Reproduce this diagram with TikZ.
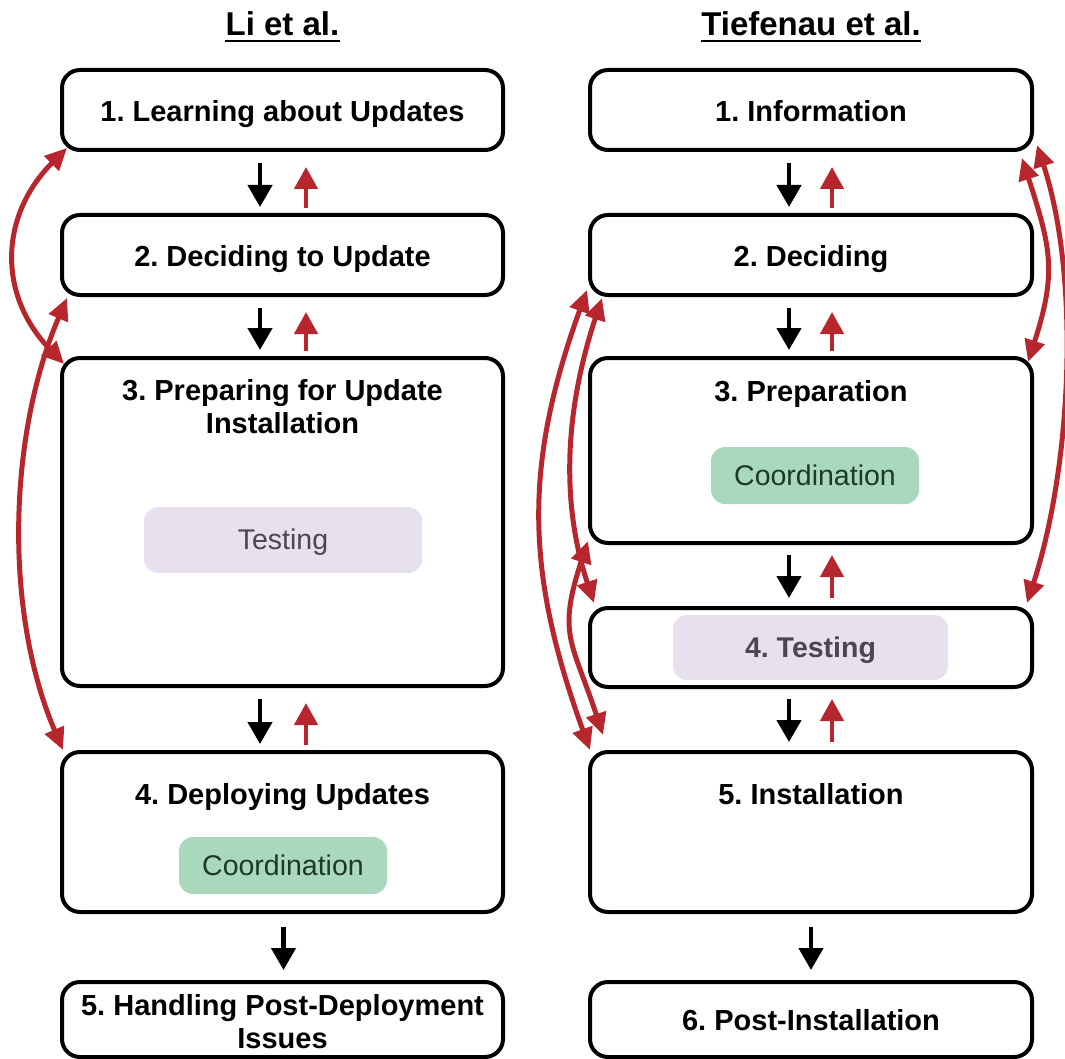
\documentclass[tikz,border=0pt]{standalone}
\usepackage{fontspec}
\setmainfont{Liberation Sans}
\frenchspacing
\usetikzlibrary{arrows.meta,calc}
\definecolor{arrowred}{HTML}{B8262D}
\definecolor{coordfill}{HTML}{A9D8BD}
\definecolor{coordtext}{HTML}{1C3B27}
\definecolor{testfill}{HTML}{E7E0EE}
\definecolor{testtext}{HTML}{4B4652}
\begin{document}
\begin{tikzpicture}[x=1pt,y=-1pt,
  stage/.style={draw, line width=4pt, rounded corners=18pt, outer sep=0pt,
    inner sep=0pt, font=\fontsize{29}{33}\selectfont\bfseries},
  leftcol/.style={minimum width=441pt},
  rightcol/.style={minimum width=442pt},
  oneline/.style={text height=28.5pt, text depth=6pt},
  heading/.style={inner sep=0pt, font=\fontsize{29}{33}\selectfont\bfseries, align=center},
  title/.style={inner sep=0pt, font=\fontsize{33}{38}\selectfont\bfseries},
  pill/.style={rounded corners=14pt, inner sep=0pt, text height=25pt, text depth=6pt,
    font=\fontsize{28.5}{33}\selectfont},
  coord/.style={pill, fill=coordfill, text=coordtext, minimum width=208pt, minimum height=57pt},
  testpill/.style={pill, fill=testfill, text=testtext},
  flow/.style={line width=4.5pt, -{Triangle[length=22pt,width=24pt]}},
  back/.style={line width=4.5pt, arrowred, -{Triangle[length=22pt,width=23pt]}},
  loop/.style={line width=5pt, arrowred, {Triangle[length=22pt,width=20pt]}-{Triangle[length=22pt,width=20pt]}}
]
\useasboundingbox (0,0) rectangle (1065,1059);

% column titles
\node[title, anchor=base] (T1) at (282.5,36) {Li et al.};
\node[title, anchor=base] (T2) at (811,36) {Tiefenau et al.};
\draw[line width=2.5pt] ($(T1.base west)+(0,5)$) -- ($(T1.base east)+(0,5)$);
\draw[line width=2.5pt] ($(T2.base west)+(0,5)$) -- ($(T2.base east)+(0,5)$);

% left process
\node[stage, leftcol, oneline, minimum height=80pt] (L1) at (282.5,110) {1. Learning about Updates};
\node[stage, leftcol, oneline, minimum height=80pt] (L2) at (282.5,255) {2. Deciding to Update};
\node[stage, leftcol, minimum height=328pt] (L3) at (282.5,522) {};
\node[heading] (L3t) at (282.5,407) {3. Preparing for Update\\Installation};
\node[testpill, minimum width=278pt, minimum height=66pt] (Ltest) at (283,540) {Testing};
\node[stage, leftcol, minimum height=160pt] (L4) at (282.5,832) {};
\node[heading, oneline] (L4t) at (282.5,793) {4. Deploying Updates};
\node[coord] (Lcoord) at (283,865.5) {Coordination};
\node[stage, leftcol, minimum height=75pt] (L5) at (282.5,1019.5) {};
\node[heading] (L5t) at (282.5,1021.5) {5. Handling Post-Deployment\\Issues};

% right process
\node[stage, rightcol, oneline, minimum height=80pt] (R1) at (811,110) {1. Information};
\node[stage, rightcol, oneline, minimum height=80pt] (R2) at (811,255) {2. Deciding};
\node[stage, rightcol, minimum height=185pt] (R3) at (811,450.5) {};
\node[heading, oneline] (R3t) at (811,390) {3. Preparation};
\node[coord] (Rcoord) at (815,475.5) {Coordination};
\node[stage, rightcol, minimum height=79pt] (R4) at (811,647.5) {};
\node[testpill, minimum width=275pt, minimum height=65pt, font=\fontsize{28.5}{33}\selectfont\bfseries] (Rtest) at (810.5,647.5) {4. Testing};
\node[stage, rightcol, minimum height=160pt] (R5) at (811,832) {};
\node[heading, oneline] (R5t) at (811,793) {5. Installation};
\node[stage, rightcol, oneline, minimum height=75pt] (R6) at (811,1019.5) {6. Post-Installation};

% forward and backward steps, left
\draw[flow] ($(L1.south)+(-22.5,13)$) -- ($(L2.north)+(-22.5,-8)$);
\draw[back] ($(L2.north)+(23.5,-7)$) -- ($(L1.south)+(23.5,17)$);
\draw[flow] ($(L2.south)+(-22.5,13)$) -- ($(L3.north)+(-22.5,-8)$);
\draw[back] ($(L3.north)+(23.5,-7)$) -- ($(L2.south)+(23.5,17)$);
\draw[flow] ($(L3.south)+(-22.5,13)$) -- ($(L4.north)+(-22.5,-8)$);
\draw[back] ($(L4.north)+(23.5,-7)$) -- ($(L3.south)+(23.5,17)$);
\draw[flow] ($(L4.south)+(1,15)$) -- ($(L5.north)+(1,-12)$);

% forward and backward steps, right
\draw[flow] ($(R1.south)+(-22,13)$) -- ($(R2.north)+(-22,-8)$);
\draw[back] ($(R2.north)+(21,-7)$) -- ($(R1.south)+(21,17)$);
\draw[flow] ($(R2.south)+(-22,13)$) -- ($(R3.north)+(-22,-8)$);
\draw[back] ($(R3.north)+(21,-7)$) -- ($(R2.south)+(21,17)$);
\draw[flow] ($(R3.south)+(-22,12)$) -- ($(R4.north)+(-22,-10)$);
\draw[back] ($(R4.north)+(21,-10)$) -- ($(R3.south)+(21,12)$);
\draw[flow] ($(R4.south)+(-22,12)$) -- ($(R5.north)+(-22,-10)$);
\draw[back] ($(R5.north)+(21,-10)$) -- ($(R4.south)+(21,12)$);
\draw[flow] ($(R5.south)+(0,15)$) -- ($(R6.north)+(0,-12)$);

% loops, left process
\coordinate (a1) at ($(L1.south west)+(5,-2)$);
\coordinate (a2) at ($(L3.north west)+(2,6)$);
\draw[loop] (a1) .. controls (0,215) and (-3,294) .. (a2);
\coordinate (b1) at ($(L2.south west)+(5,3)$);
\coordinate (b2) at ($(L4.north west)+(1,-2)$);
\draw[loop] (b1) .. controls (8,436) and (4,612) .. (b2);

% loops, right process (left side)
\coordinate (c1) at ($(R2.south west)+(-3,-5)$);
\coordinate (c2) at ($(R5.north west)+(0,-2)$);
\draw[loop] (c1) .. controls (523,467) and (526,573) .. (c2);
\coordinate (d1) at ($(R2.south west)+(12,3)$);
\coordinate (d2) at ($(R4.north west)+(4,-5)$);
\draw[loop] (d1) .. controls (567,404) and (559,497) .. (d2);
\coordinate (e1) at ($(R3.south west)+(-2,-2)$);
\coordinate (e2) at ($(R5.north west)+(13,-17)$);
\draw[loop] (e1) .. controls (557,635) and (572,641) .. (e2);

% loops, right process (right side)
\coordinate (f1) at ($(R1.south east)+(-10,8)$);
\coordinate (f2) at ($(R3.north east)+(-4,4)$);
\draw[loop] (f1) .. controls (1051,248) and (1057,272) .. (f2);
\coordinate (g1) at ($(R1.south east)+(5,-5)$);
\coordinate (g2) at ($(R4.north east)+(-5,-5)$);
\draw[loop] (g1) .. controls (1081,280) and (1071,468) .. (g2);
\end{tikzpicture}
\end{document}
